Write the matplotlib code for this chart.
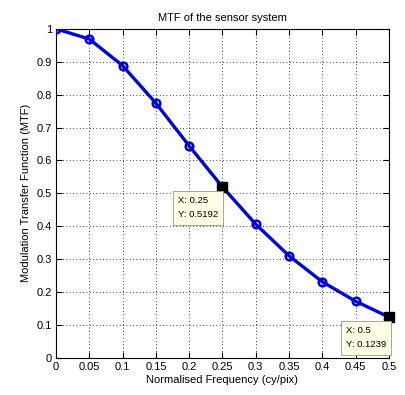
import matplotlib
matplotlib.use("Agg")
import matplotlib.pyplot as plt

freq = [0, 0.05, 0.1, 0.15, 0.2, 0.25, 0.3, 0.35, 0.4, 0.45, 0.5]
mtf = [1.0, 0.969, 0.888, 0.774, 0.644, 0.5192, 0.406, 0.31, 0.231, 0.172, 0.1239]
tips = [(0.25, 0.5192), (0.5, 0.1239)]
xticks = [0, 0.05, 0.1, 0.15, 0.2, 0.25, 0.3, 0.35, 0.4, 0.45, 0.5]
xticklabels = ["0", "0.05", "0.1", "0.15", "0.2", "0.25", "0.3", "0.35", "0.4", "0.45", "0.5"]
yticks = [0, 0.1, 0.2, 0.3, 0.4, 0.5, 0.6, 0.7, 0.8, 0.9, 1.0]
yticklabels = ["0", "0.1", "0.2", "0.3", "0.4", "0.5", "0.6", "0.7", "0.8", "0.9", "1"]

plt.rcParams['font.family'] = ['Liberation Sans', 'DejaVu Sans']
fig = plt.figure(figsize=(4.06, 3.95), dpi=100)
ax = fig.add_axes([0.138, 0.094, 0.82, 0.833])

ax.plot(freq, mtf, color='#0000dd', lw=2.4, marker='o', ms=5.5, mfc='none',
        mec='#0000dd', mew=1.8, zorder=3)
for tx, ty in tips:
    ax.plot([tx], [ty], marker='s', ms=6.5, color='black', zorder=5, clip_on=False)

box = dict(boxstyle='square,pad=0.55', fc='#ffffe6', ec='#9a9a80', lw=0.6)
ax.annotate("X: 0.25\nY: 0.5192", xy=(0.25, 0.5192), xytext=(-32, -6.5),
            textcoords='offset points', ha='left', va='top', fontsize=6.8,
            bbox=box, zorder=6, linespacing=1.75)
ax.annotate("X: 0.5\nY: 0.1239", xy=(0.5, 0.1239), xytext=(-31, -6.5),
            textcoords='offset points', ha='left', va='top', fontsize=6.8,
            bbox=box, zorder=6, linespacing=1.75, annotation_clip=False)

ax.set_xlim(0, 0.5)
ax.set_ylim(0, 1)
ax.set_xticks(xticks)
ax.set_xticklabels(xticklabels)
ax.set_yticks(yticks)
ax.set_yticklabels(yticklabels)
ax.tick_params(direction='in', top=True, right=True, labelsize=8, length=4, pad=3)
ax.grid(True, color='black', linestyle=(0, (1, 3)), lw=0.6)
for s in ax.spines.values():
    s.set_linewidth(0.8)
ax.set_title("MTF of the sensor system", fontsize=8, pad=6)
ax.set_xlabel("Normalised Frequency (cy/pix)", fontsize=8, labelpad=2)
ax.set_ylabel("Modulation Transfer Function (MTF)", fontsize=8, labelpad=4)

fig.savefig("out.png", dpi=100)
